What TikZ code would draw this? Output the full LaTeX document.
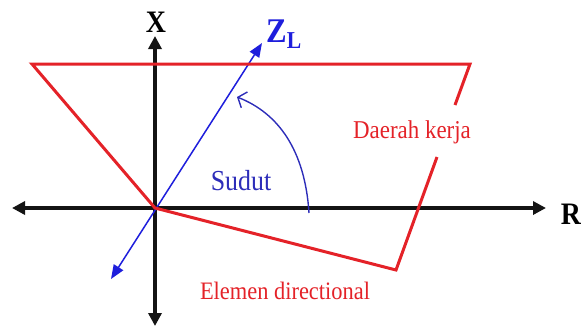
\documentclass[tikz,border=0pt]{standalone}
\usepackage{fontspec}
\setmainfont{Liberation Serif}
\usetikzlibrary{arrows.meta}
\definecolor{axisblack}{RGB}{20, 20, 20}
\definecolor{zonered}{RGB}{228, 34, 40}
\definecolor{dirblue}{RGB}{30, 30, 220}
\definecolor{arcblue}{RGB}{45, 45, 185}

\begin{document}
\begin{tikzpicture}[x=1bp, y=-1bp,
  axis/.style={line width=3.6bp, color=axisblack, {Triangle[length=13bp,width=13bp]}-{Triangle[length=13bp,width=13bp]}},
  zone/.style={line width=3bp, color=zonered, line join=miter},
  dirline/.style={line width=1.5bp, color=dirblue, {Triangle[length=14bp,width=11bp]}-{Triangle[length=14bp,width=11bp]}},
  lbl/.style={inner sep=0pt, anchor=base, yscale=1.12}]
  \useasboundingbox (0,0) rectangle (581,328);
  % axes
  \coordinate (O) at (155,208);
  \coordinate (Rl) at (12,208);
  \coordinate (Rr) at (546,208);
  \coordinate (Xt) at (155,36);
  \coordinate (Xb) at (155,326);
  \draw[axis] (Rl) -- (Rr);
  \draw[axis] (Xb) -- (Xt);
  \node[lbl, font=\bfseries\fontsize{28}{28}\selectfont] (xlab) at (156,32) {X};
  \node[lbl, font=\bfseries\fontsize{28}{28}\selectfont] (rlab) at (571,224) {R};
  % directional element axis
  \coordinate (Zb) at (111,279);
  \coordinate (Zt) at (262,43);
  \draw[dirline] (Zb) -- (Zt);
  \node[lbl, anchor=base west, text=dirblue, font=\bfseries\fontsize{31}{31}\selectfont] (zlab) at (266,42) {Z\textsubscript{L}};
  % angle
  \coordinate (Aa) at (309,213);
  \coordinate (Ab) at (237,97);
  \draw[line width=1.4bp, color=arcblue, -{Straight Barb[length=7bp,width=17bp]}] (Aa) .. controls (305,150) and (278,113) .. (Ab);
  \node[lbl, text=arcblue, font=\fontsize{26}{26}\selectfont] (sudut) at (241,190) {Sudut};
  % operating zone
  \coordinate (Ka) at (455,105);
  \coordinate (Ktr) at (470,64);
  \coordinate (Ktl) at (32,64);
  \coordinate (Kb) at (396,270);
  \coordinate (Kc) at (437,157);
  \draw[zone] (Ka) -- (Ktr) -- (Ktl) -- (O) -- (Kb) -- (Kc);
  \node[lbl, text=zonered, font=\fontsize{23}{23}\selectfont] (daerah) at (412,138) {Daerah kerja};
  \node[lbl, text=zonered, font=\fontsize{22.5}{22.5}\selectfont] (elemen) at (285,299) {Elemen directional};
\end{tikzpicture}
\end{document}
